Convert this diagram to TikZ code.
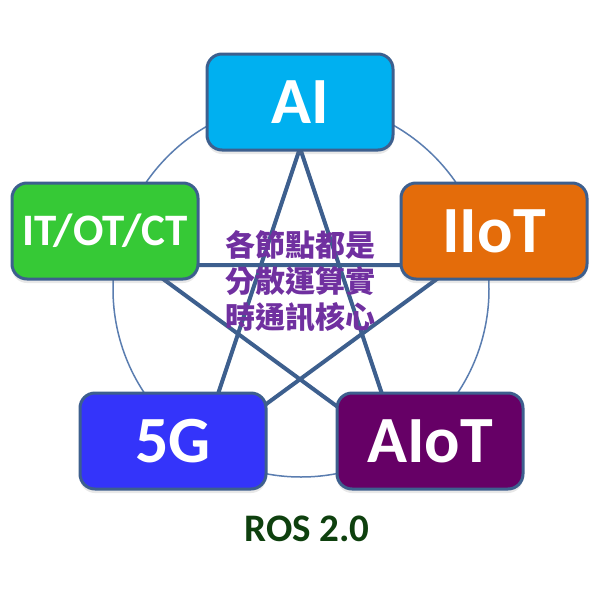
\documentclass[tikz,border=0pt]{standalone}
\usepackage{fontspec}
\setmainfont{Carlito}
\newfontfamily\cjkfont{Noto Sans CJK TC}
\usetikzlibrary{shadows}
\definecolor{edgeblue}{HTML}{3D5F8E}
\definecolor{ringblue}{HTML}{5A7DB0}
\definecolor{aicyan}{HTML}{00B0F0}
\definecolor{itgreen}{HTML}{36C936}
\definecolor{iiotorange}{HTML}{E46C0A}
\definecolor{fivegblue}{HTML}{3434FA}
\definecolor{aiotpurple}{HTML}{660066}
\definecolor{txtpurple}{HTML}{7030A0}
\definecolor{rosgreen}{HTML}{0E400E}
\tikzset{
  techbox/.style={draw=edgeblue, line width=3pt, rounded corners=15pt,
    minimum width=186pt, minimum height=96pt, text=white,
    font=\bfseries\fontsize{66}{66}\selectfont, inner sep=0pt,
    drop shadow={opacity=0.18, shadow xshift=0pt, shadow yshift=-4pt}},
  starline/.style={draw=edgeblue, line width=4pt, line join=miter},
  ring/.style={draw=ringblue, line width=1.5pt}
}
\begin{document}
\begin{tikzpicture}[x=1pt,y=-1pt]
\useasboundingbox (0,0) rectangle (600,600);
\fill[white] (0,0) rectangle (600,600);
% ring
\coordinate (rc) at (301,289);
\draw[ring] (rc) circle[radius=188];
% star vertices
\coordinate (sT) at (300,148);
\coordinate (sUL) at (144,265);
\coordinate (sUR) at (456,265);
\coordinate (sLL) at (198,454);
\coordinate (sLR) at (402,454);
\draw[starline] (sT) -- (sLL) -- (sUR) -- (sUL) -- (sLR) -- cycle;
% boxes
\node[techbox, fill=aicyan] (ai) at (300,102) {AI};
\node[techbox, fill=itgreen, font=\bfseries\fontsize{45}{45}\selectfont] (it) at (105,231) {IT/OT/CT};
\node[techbox, fill=iiotorange] (iiot) at (494,231) {IIoT};
\node[techbox, fill=fivegblue] (fiveg) at (173,441) {5G};
\node[techbox, fill=aiotpurple] (aiot) at (430,441) {AIoT};
% center text
\node[text=txtpurple, font=\cjkfont\bfseries\fontsize{30}{36}\selectfont, align=center, inner sep=0pt] (core) at (300,281) {各節點都是\\分散運算實\\時通訊核心};
% title
\node[text=rosgreen, font=\bfseries\fontsize{39}{39}\selectfont, inner sep=0pt] (ros) at (307,529) {ROS 2.0};
\end{tikzpicture}
\end{document}
